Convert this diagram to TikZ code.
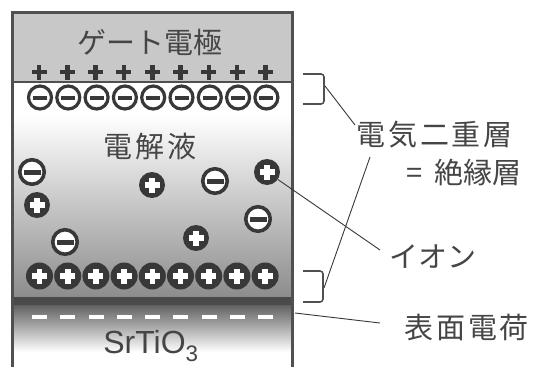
\documentclass[tikz,border=0pt]{standalone}
\usepackage{fontspec}
\setmainfont{Liberation Sans}
\newfontfamily\jp{Noto Sans CJK JP}
\newfontfamily\jpwide[LetterSpace=10]{Noto Sans CJK JP}
\definecolor{ionc}{HTML}{383838}
\definecolor{bordc}{HTML}{505050}
\definecolor{txtc}{HTML}{454545}
\definecolor{gatec}{HTML}{C8C8C8}
\definecolor{elgray}{HTML}{8C8C8C}
\definecolor{bandc}{HTML}{4A4A4A}
\definecolor{stogray}{HTML}{5E5E5E}
\definecolor{linec}{HTML}{383838}
\tikzset{
  minusion/.style={circle, draw=ionc, line width=3.2pt, fill=white, minimum size=23pt, inner sep=0pt,
    path picture={\fill[ionc] ([xshift=-7pt,yshift=-2pt]path picture bounding box.center) rectangle ([xshift=7pt,yshift=2pt]path picture bounding box.center);}},
  freeminus/.style={circle, draw=ionc, line width=3.6pt, fill=white, minimum size=24.5pt, inner sep=0pt,
    path picture={\fill[ionc] ([xshift=-8.5pt,yshift=-2.5pt]path picture bounding box.center) rectangle ([xshift=8.5pt,yshift=2.5pt]path picture bounding box.center);}},
  plusion/.style={circle, fill=ionc, minimum size=#1, inner sep=0pt,
    path picture={
      \fill[white] ([xshift=-7.5pt,yshift=-2.8pt]path picture bounding box.center) rectangle ([xshift=7.5pt,yshift=2.8pt]path picture bounding box.center);
      \fill[white] ([xshift=-2.8pt,yshift=-7.5pt]path picture bounding box.center) rectangle ([xshift=2.8pt,yshift=7.5pt]path picture bounding box.center);}},
  plusion/.default=26pt,
  gateplus/.style={rectangle, minimum size=16pt, inner sep=0pt,
    path picture={
      \fill[ionc] ([xshift=-7.5pt,yshift=-2.3pt]path picture bounding box.center) rectangle ([xshift=7.5pt,yshift=2.3pt]path picture bounding box.center);
      \fill[ionc] ([xshift=-2.3pt,yshift=-7.5pt]path picture bounding box.center) rectangle ([xshift=2.3pt,yshift=7.5pt]path picture bounding box.center);}},
  dashmark/.style={rectangle, fill=white, minimum width=15pt, minimum height=4.5pt, inner sep=0pt},
  lbl/.style={text=txtc, inner sep=0pt, font=\jp\fontsize{29}{32}\selectfont},
  lblwide/.style={text=txtc, inner sep=0pt, font=\jpwide\fontsize{29}{32}\selectfont},
  bracketline/.style={draw=bordc, line width=1.6pt, rounded corners=3pt},
  leader/.style={draw=linec, line width=0.9pt},
}
\begin{document}
\begin{tikzpicture}[x=1pt,y=-1pt]
\useasboundingbox (0,0) rectangle (536,367);
% regions
\fill[gatec] (12,12) rectangle (293,82);
\fill[white] (13,82) rectangle (292,115);
\shade[top color=white, bottom color=elgray] (13,115) rectangle (292,298);
\shade[top color=stogray, bottom color=white] (13,304) rectangle (292,352);
\fill[white] (13,352) rectangle (292,367);
\fill[bandc] (11,297) rectangle (294,305);
% frame
\draw[bordc, line width=3.5pt] (12.5,367) -- (12.5,12.5) -- (292.5,12.5) -- (292.5,367);
\draw[bordc, line width=2pt] (12,82) -- (293,82);
% rows
\foreach \i in {0,...,8} {
  \node[gateplus] (g\i) at ({39+28.3*\i},72) {};
  \node[minusion] (t\i) at ({40+28.3*\i},97.5) {};
  \node[plusion=27pt] (b\i) at ({39.5+28.2*\i},276) {};
  \node[dashmark] (d\i) at ({39.5+28.25*\i},317) {};
}
% free ions
\node[freeminus] (m1) at (32,172) {};
\node[plusion] (p1) at (37,205) {};
\node[plusion] (p2) at (152,185) {};
\node[freeminus] (m2) at (215,181) {};
\node[plusion] (p3) at (267,172) {};
\node[freeminus] (m3) at (258,219) {};
\node[plusion] (p4) at (196,238) {};
\node[freeminus] (m4) at (65,242) {};
% texts
\node[lbl] (gate) at (150,42) {ゲート電極};
\node[lblwide] (elec) at (150,146) {電解液};
\node[text=txtc, inner sep=0pt, font=\fontsize{32}{34}\selectfont] (sto) at (151,346) {SrTiO\textsubscript{3}};
\node[lblwide, anchor=west] (edl) at (356,135) {電気二重層};
\node[lbl, anchor=east] (ins) at (522,172) {=\hspace{12pt}絶縁層};
\node[lbl] (ion) at (433,257) {イオン};
\node[lblwide, anchor=west] (surf) at (404,327) {表面電荷};
% brackets
\draw[bracketline] (303,74) -- (324,74) -- (324,104) -- (303,104);
\draw[bracketline] (303,271) -- (323,271) -- (323,302) -- (303,302);
\coordinate (bt) at (325,86);
\coordinate (bb) at (324,288);
\coordinate (edlA) at (355,125);
\coordinate (edlB) at (370,157);
\coordinate (ionE) at (380,250);
\coordinate (surfS) at (295,313);
\coordinate (surfE) at (380,323);
% leaders
\draw[leader] (bt) -- (edlA);
\draw[leader] (bb) -- (edlB);
\draw[leader] (p3) -- (ionE);
\draw[leader] (surfS) -- (surfE);
\end{tikzpicture}
\end{document}
